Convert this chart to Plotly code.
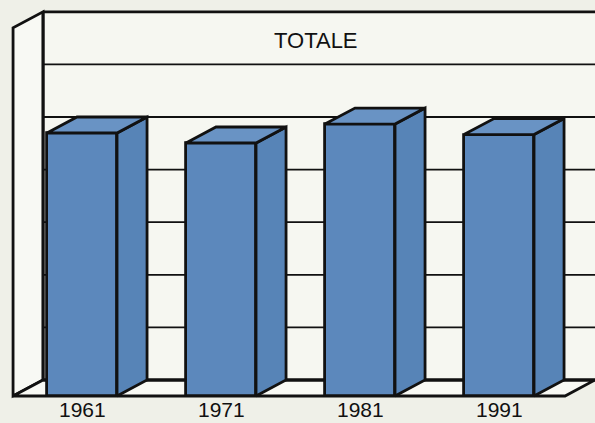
import plotly.graph_objects as go

# ---- data ----
years = ["1961", "1971", "1981", "1991"]
values = [5.0, 4.81, 5.17, 4.97]
title_text = "TOTALE"
grid_levels = list(range(0, 8))  # back-wall gridlines (0..7)

# ---- pseudo-3D geometry (axis units) ----
BAR_W = 0.504
DX = 0.216   # depth offset in x units
DV = 0.304   # depth offset in value units
WALL_X = -0.496   # front-left edge of the side wall
TOP_V = 7.0
FLOOR_RIGHT = 3.475

front_color = "#5c88bc"
top_color = "#6993c4"
side_color = "#5784b7"
edge = "#111111"
LW = 2.8

fig = go.Figure()

xs = list(range(len(years)))

# front faces
fig.add_trace(go.Bar(
    x=xs, y=values, width=BAR_W,
    marker=dict(color=front_color, line=dict(color=edge, width=LW)),
    hoverinfo="skip", showlegend=False,
))

# side faces and top faces
side_x, side_y, top_x, top_y = [], [], [], []
for i, v in zip(xs, values):
    r = i + BAR_W / 2
    l = i - BAR_W / 2
    side_x += [r, r + DX, r + DX, r, r, None]
    side_y += [0, DV, v + DV, v, 0, None]
    top_x += [l, r, r + DX, l + DX, l, None]
    top_y += [v, v, v + DV, v + DV, v, None]

fig.add_trace(go.Scatter(x=side_x, y=side_y, fill="toself", fillcolor=side_color,
                         mode="lines", line=dict(color=edge, width=LW),
                         hoverinfo="skip", showlegend=False))
fig.add_trace(go.Scatter(x=top_x, y=top_y, fill="toself", fillcolor=top_color,
                         mode="lines", line=dict(color=edge, width=LW),
                         hoverinfo="skip", showlegend=False))

shapes = []
wall_fill = "#f6f7f1"
back_x0 = WALL_X + DX
# back wall
shapes.append(dict(type="rect", xref="x", yref="y", x0=back_x0, x1=4.5,
                   y0=DV, y1=TOP_V + DV, fillcolor=wall_fill,
                   line=dict(width=0), layer="below"))
# left wall
shapes.append(dict(type="path", xref="x", yref="y",
                   path=f"M {WALL_X} 0 L {WALL_X} {TOP_V} L {back_x0} {TOP_V + DV} L {back_x0} {DV} Z",
                   fillcolor="#f8f9f4", line=dict(color=edge, width=LW), layer="below"))
# floor
shapes.append(dict(type="path", xref="x", yref="y",
                   path=f"M {WALL_X} 0 L {FLOOR_RIGHT} 0 L {FLOOR_RIGHT + DX} {DV} L {back_x0} {DV} Z",
                   fillcolor="#f8f9f4", line=dict(color=edge, width=LW), layer="below"))
# gridlines on back wall
for k in grid_levels:
    shapes.append(dict(type="line", xref="x", yref="y", x0=back_x0, x1=4.5,
                       y0=k + DV, y1=k + DV,
                       line=dict(color=edge, width=LW if k in (0, 7) else 1.8),
                       layer="below"))
# back wall left edge
shapes.append(dict(type="line", xref="x", yref="y", x0=back_x0, x1=back_x0,
                   y0=DV, y1=TOP_V + DV, line=dict(color=edge, width=LW), layer="below"))

annotations = [dict(x=i, y=-0.26, xref="x", yref="y", text=t, showarrow=False,
                    borderpad=0,
                    font=dict(family="Liberation Sans, Arial", size=21, color="#111111"))
               for i, t in zip(xs, years)]
annotations.append(dict(x=1.683, y=6.75, xref="x", yref="y", text=title_text,
                        showarrow=False,
                        font=dict(family="Liberation Sans, Arial", size=22, color="#111111")))

fig.update_layout(
    width=595, height=423,
    margin=dict(l=0, r=0, t=0, b=0),
    paper_bgcolor="#eff0e8", plot_bgcolor="#eff0e8",
    xaxis=dict(range=[-82 / 139, 513 / 139], visible=False, fixedrange=True),
    yaxis=dict(range=[(396 - 423) / 52.6, 396 / 52.6], visible=False, fixedrange=True),
    shapes=shapes, annotations=annotations,
    bargap=0, showlegend=False,
)

fig.write_html("out.html", config={"displayModeBar": False},
               post_script="document.body.style.margin='0';document.body.style.overflow='hidden';")
